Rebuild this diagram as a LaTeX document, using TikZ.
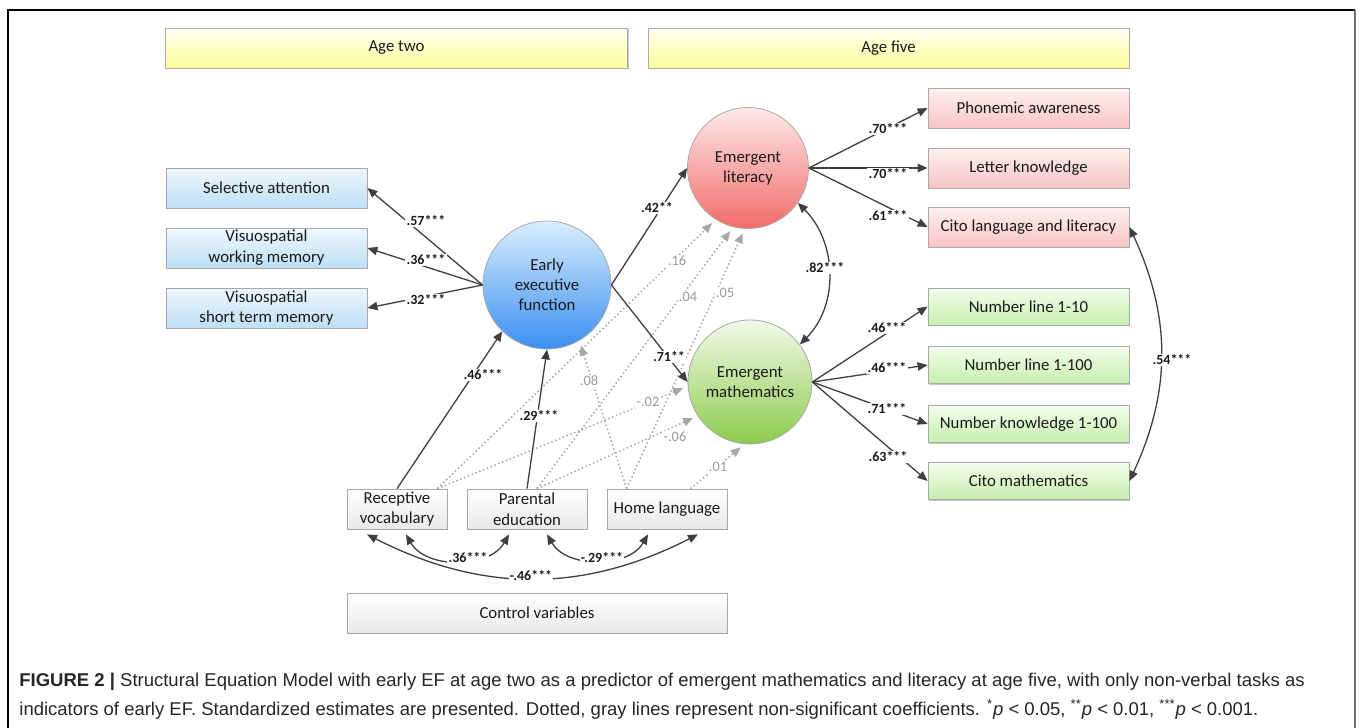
\documentclass[tikz,border=0pt]{standalone}
\usepackage{fontspec}
\setmainfont{Carlito}
\newfontfamily\capfont{Liberation Sans}
\usetikzlibrary{arrows.meta,shadows,calc}

\definecolor{edgegray}{HTML}{3F3F3F}
\definecolor{nsgray}{HTML}{A8A8A8}
\definecolor{nstext}{HTML}{9A9A9A}
\definecolor{boxline}{HTML}{A9A9A9}
\definecolor{textdark}{HTML}{1A1A1A}
\definecolor{yellowtop}{HTML}{FFFFF2}
\definecolor{yellowbot}{HTML}{FFFF9C}
\definecolor{bluetop}{HTML}{EEF7FD}
\definecolor{bluebot}{HTML}{BEDFF6}
\definecolor{redtop}{HTML}{FFF1F1}
\definecolor{redbot}{HTML}{F8C4C4}
\definecolor{greentop}{HTML}{F3FDEB}
\definecolor{greenbot}{HTML}{C6EFAE}
\definecolor{graybot}{HTML}{E9E9E9}
\definecolor{eeftop}{HTML}{D9EEFD}
\definecolor{eefbot}{HTML}{3A8EF2}
\definecolor{littop}{HTML}{FFE9E9}
\definecolor{litbot}{HTML}{F26B6B}
\definecolor{mathtop}{HTML}{F2FAEA}
\definecolor{mathbot}{HTML}{8CCB4B}

\tikzset{
	box/.style={draw=boxline, line width=0.4pt, align=center, inner sep=1pt,
		font=\fontsize{8.4}{10.4}\selectfont, text=textdark, minimum height=20pt,
		drop shadow={shadow xshift=0.7pt, shadow yshift=-0.7pt, opacity=0.22, fill=black}},
	agebox/.style={box, top color=yellowtop, bottom color=yellowbot},
	efbox/.style={box, minimum width=100.5pt, top color=bluetop, bottom color=bluebot},
	litbox/.style={box, minimum width=100.5pt, top color=redtop, bottom color=redbot},
	mathbox/.style={box, minimum width=100.5pt, minimum height=18.5pt, top color=greentop, bottom color=greenbot},
	ctrlbox/.style={box, top color=white, bottom color=graybot},
	latent/.style={circle, draw=boxline, line width=0.4pt, align=center, inner sep=0pt,
		font=\fontsize{8.4}{10}\selectfont, text=textdark},
	tip/.style={-{Triangle[length=5pt,width=4.2pt]}},
	eff/.style={draw=edgegray, line width=0.65pt, tip},
	cov/.style={draw=edgegray, line width=0.65pt, {Triangle[length=5pt,width=4.2pt]}-{Triangle[length=5pt,width=4.2pt]}},
	nseff/.style={draw=nsgray, line width=0.75pt, dash pattern=on 0.75pt off 1.3pt, shorten >=2.5pt, tip},
	coef/.style={font=\bfseries\fontsize{7}{8}\selectfont, text=textdark, fill=white, inner sep=0.6pt},
	nscoef/.style={font=\fontsize{7.2}{8}\selectfont, text=nstext, fill=white, inner sep=0.6pt},
	capnode/.style={font=\capfont\fontsize{9.25}{14.5}\selectfont, text=black!85, align=left, inner sep=0pt},
}

\begin{document}
\begin{tikzpicture}[x=0.5pt,y=-0.5pt]
	\useasboundingbox (0,0) rectangle (1360,728);
	% frame
	\draw[black, line width=0.7pt] (8,728)--(8,10)--(1355,10);
	\draw[black!55, line width=0.7pt] (1355,10)--(1355,728);

	% ages
	\node[agebox, minimum width=231pt] (agetwo) at (396.5,48) {Age two};
	\node[agebox, minimum width=240.5pt] (agefive) at (888.5,48) {Age five};

	% early EF and its indicators
	\node[efbox] (SA) at (266.5,188) {Selective attention};
	\node[efbox] (VWM) at (266.5,248) {Visuospatial\\working memory};
	\node[efbox] (VSTM) at (266.5,308) {Visuospatial\\short term memory};
	\node[latent, minimum size=64pt, top color=eeftop, bottom color=eefbot] (EEF) at (547,285) {Early\\executive\\function};

	% outcomes at age five
	\node[latent, minimum size=60.5pt, top color=littop, bottom color=litbot] (EL) at (748,168) {Emergent\\literacy};
	\node[latent, minimum size=62pt, top color=mathtop, bottom color=mathbot] (EM) at (750,382) {Emergent\\mathematics};
	\node[litbox] (PA) at (1028.5,108) {Phonemic awareness};
	\node[litbox] (LK) at (1028.5,168) {Letter knowledge};
	\node[litbox] (CL) at (1028.5,227) {Cito language and literacy};
	\node[mathbox] (NL10) at (1028.5,306.5) {Number line 1-10};
	\node[mathbox] (NL100) at (1028.5,365) {Number line 1-100};
	\node[mathbox] (NK) at (1028.5,424) {Number knowledge 1-100};
	\node[mathbox] (CM) at (1028.5,481) {Cito mathematics};

	% control variables
	\node[ctrlbox, minimum width=50pt] (RV) at (397,509) {Receptive\\vocabulary};
	\node[ctrlbox, minimum width=60pt] (PE) at (527,509) {Parental\\education};
	\node[ctrlbox, minimum width=60pt] (HL) at (667,509) {Home language};
	\node[ctrlbox, minimum width=190pt] (CV) at (537,613) {Control variables};

	% non-significant paths
	\coordinate (rvns) at ($(RV.north east)+(-10,0)$);
	\coordinate (pens) at ($(PE.north)+(10,0)$);
	\coordinate (hlns) at ($(HL.north west)+(20,0)$);
	\coordinate (hlnsb) at ($(HL.north east)+(-37,0)$);
	\draw[nseff] (rvns)--(EL.238);
	\draw[nseff] (pens)--(EL.256);
	\draw[nseff] (hlns)--(EL.267);
	\draw[nseff] (hlns)--(EEF.300);
	\draw[nseff] (rvns)--(EM.184);
	\draw[nseff] (pens)--(EM.213);
	\draw[nseff] (hlnsb)--(EM.265);

	% significant paths
	\draw[eff] (EEF.west)--(SA.east);
	\draw[eff] (EEF.west)--(VWM.east);
	\draw[eff] (EEF.west)--(VSTM.east);
	\draw[eff] (EEF.east)--(EL.west);
	\draw[eff] (EEF.east)--(EM.west);
	\draw[eff] (EL.east)--(PA.west);
	\draw[eff] (EL.east)--(LK.west);
	\draw[eff] (EL.east)--(CL.west);
	\draw[eff] (EM.east)--(NL10.west);
	\draw[eff] (EM.east)--(NL100.west);
	\draw[eff] (EM.east)--(NK.west);
	\draw[eff] (EM.east)--(CM.west);
	\draw[eff] (RV.north)--(EEF.226);
	\draw[eff] (PE.north)--(EEF.south);

	% covariances
	\draw[cov] (EL.-35) to[out=-45,in=45] (EM.37);
	\draw[cov] (CL.east) to[out=-65,in=65] (CM.east);
	\draw[cov] ($(RV.south)+(9,5)$) to[out=-60,in=-120] ($(PE.south)+(-18,5)$);
	\draw[cov] ($(PE.south)+(20,5)$) to[out=-60,in=-120] ($(HL.south)+(-19,5)$);
	\draw[cov] ($(RV.south)+(-30,5)$) to[out=-27,in=-153] ($(HL.south)+(31,5)$);

	% estimates
	\node[coef] (c57) at (426,221) {.57***};
	\node[coef] (c36) at (426,260) {.36***};
	\node[coef] (c32) at (426,300) {.32***};
	\node[coef] (c42) at (657,208) {.42**};
	\node[coef] (c71) at (669,357) {.71**};
	\node[coef] (c82) at (825,268) {.82***};
	\node[coef] (c70a) at (888,129) {.70***};
	\node[coef] (c70b) at (888,174) {.70***};
	\node[coef] (c61) at (888,216) {.61***};
	\node[coef] (c46a) at (887,328) {.46***};
	\node[coef] (c46b) at (887,368) {.46***};
	\node[coef] (c71b) at (887,409) {.71***};
	\node[coef] (c63) at (888,457) {.63***};
	\node[coef] (c54) at (1172,360) {.54***};
	\node[coef] (c46c) at (483,375) {.46***};
	\node[coef] (c29) at (539,416) {.29***};
	\node[coef] (c36b) at (468,558) {.36***};
	\node[coef] (cm29) at (602,558) {-.29***};
	\node[coef] (cm46) at (531,576) {-.46***};
	\node[nscoef] (n16) at (677,261) {.16};
	\node[nscoef] (n04) at (688,297) {.04};
	\node[nscoef] (n05) at (725,293) {.05};
	\node[nscoef] (n08) at (589,381) {.08};
	\node[nscoef] (nm02) at (648,402) {-.02};
	\node[nscoef] (nm06) at (675,437) {-.06};
	\node[nscoef] (n01) at (718,467) {.01};

	% caption
	\node[capnode, anchor=north west] (caption) at (19,673) {\textbf{FIGURE 2 |} Structural Equation Model with early EF at age two as a predictor of emergent mathematics and literacy at age five, with only non-verbal tasks as\\indicators of early EF. Standardized estimates are presented. Dotted, gray lines represent non-significant coefficients. \textsuperscript{*}\textit{p} < 0.05, \textsuperscript{**}\textit{p} < 0.01, \textsuperscript{***}\textit{p} < 0.001.};
\end{tikzpicture}
\end{document}
